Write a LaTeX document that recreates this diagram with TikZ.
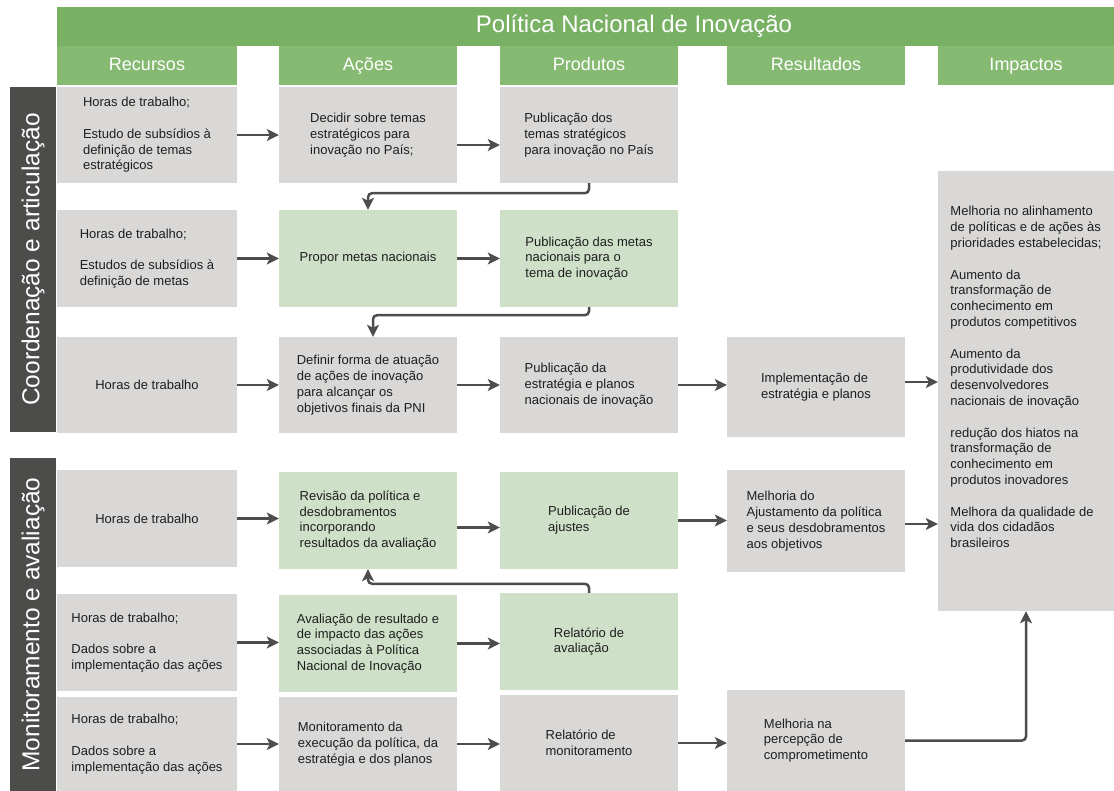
\documentclass[tikz,border=0pt]{standalone}
\usepackage{fontspec}
\setmainfont{Liberation Sans}
\usetikzlibrary{arrows.meta}

\definecolor{bannergreen}{HTML}{78B163}
\definecolor{headgreen}{HTML}{86BA73}
\definecolor{boxgrey}{HTML}{D9D8D7}
\definecolor{boxgreen}{HTML}{CFE0C9}
\definecolor{sidegrey}{HTML}{4C4C4A}
\definecolor{linegrey}{HTML}{4D4D4D}
\definecolor{txtgrey}{HTML}{1E1E1E}

\begin{document}
\begin{tikzpicture}[x=1pt,y=-1pt,
  greybox/.style={fill=boxgrey, minimum width=178pt, minimum height=96pt, align=left,
    font=\fontsize{13}{15.8}\selectfont, text=txtgrey, inner sep=0pt},
  greenbox/.style={greybox, fill=boxgreen},
  header/.style={fill=headgreen, minimum width=178pt, minimum height=39pt, text=white,
    font=\fontsize{18}{20}\selectfont, inner sep=0pt, text height=14pt, text depth=3pt},
  sidebar/.style={fill=sidegrey, rotate=90, text=white, minimum height=46pt,
    font=\fontsize{24.5}{26}\selectfont, inner sep=0pt},
  link/.style={draw=linegrey, line width=2.5pt, rounded corners=4pt,
    -{Stealth[length=12pt,width=12pt,inset=3pt]}},
]
\useasboundingbox (0,0) rectangle (1114,791);

% banner and column heads
\node[fill=bannergreen, minimum width=1057pt, minimum height=39pt, inner sep=0pt] (faixa) at (585.5,26.5) {};
\node[text=white, font=\fontsize{24}{26}\selectfont] (titulo) at (634,26.5) {Política Nacional de Inovação};
\node[header, minimum width=180pt] (hrec) at (147,65.5) {Recursos};
\node[header] (hacoes) at (368,65.5) {Ações};
\node[header] (hprod) at (589,65.5) {Produtos};
\node[header] (hres) at (816,65.5) {Resultados};
\node[header, minimum width=176pt] (himp) at (1026,65.5) {Impactos};

% side bars
\node[sidebar, minimum width=345pt] (coord) at (33,259.5) {Coordenação e articulação};
\node[sidebar, minimum width=333pt] (monit) at (33,624.5) {Monitoramento e avaliação};

% row 1
\node[greybox, minimum width=180pt] (rec1) at (147,135) {Horas de trabalho;\\[15.8pt]Estudo de subsídios à\\definição de temas\\estratégicos};
\node[greybox] (acoes1) at (368,135) {Decidir sobre temas\\estratégicos para\\inovação no País;};
\node[greybox] (prod1) at (589,135) {Publicação dos\\temas stratégicos\\para inovação no País};

% row 2
\node[greybox, minimum width=180pt, minimum height=97pt] (rec2) at (147,258.5) {Horas de trabalho;\\[15.8pt]Estudos de subsídios à\\definição de metas};
\node[greenbox, minimum height=97pt] (acoes2) at (368,258.5) {Propor metas nacionais};
\node[greenbox, minimum height=97pt] (prod2) at (589,258.5) {Publicação das metas\\nacionais para o\\tema de inovação};

% row 3
\node[greybox, minimum width=180pt] (rec3) at (147,385) {Horas de trabalho};
\node[greybox] (acoes3) at (368,385) {Definir forma de atuação\\de ações de inovação\\para alcançar os\\objetivos finais da PNI};
\node[greybox] (prod3) at (589,385) {Publicação da\\estratégia e planos\\nacionais de inovação};
\node[greybox, minimum height=100pt] (res3) at (816,387) {Implementação de\\estratégia e planos};

% row 4
\node[greybox, minimum width=180pt, minimum height=97pt] (rec4) at (147,518.5) {Horas de trabalho};
\node[greenbox, minimum height=97pt] (acoes4) at (368,520.5) {Revisão da política e\\desdobramentos\\incorporando\\resultados da avaliação};
\node[greenbox, minimum height=97pt] (prod4) at (589,520.5) {Publicação de\\ajustes};
\node[greybox, minimum height=102pt] (res4) at (816,521) {Melhoria do\\Ajustamento da política\\e seus desdobramentos\\aos objetivos};

% row 5
\node[greybox, minimum width=180pt, minimum height=97pt] (rec5) at (147,642.5) {Horas de trabalho;\\[15.8pt]Dados sobre a\\implementação das ações};
\node[greenbox, minimum height=97pt] (acoes5) at (368,643.5) {Avaliação de resultado e\\de impacto das ações\\associadas à Política\\Nacional de Inovação};
\node[greenbox, minimum height=97pt] (prod5) at (589,641.5) {Relatório de\\avaliação};

% row 6
\node[greybox, minimum width=180pt, minimum height=94pt] (rec6) at (147,744) {Horas de trabalho;\\[15.8pt]Dados sobre a\\implementação das ações};
\node[greybox, minimum height=94pt] (acoes6) at (368,744) {Monitoramento da\\execução da política, da\\estratégia e dos planos};
\node[greybox, minimum height=96pt] (prod6) at (589,743) {Relatório de\\monitoramento};
\node[greybox, minimum height=101pt] (res6) at (816,740.5) {Melhoria na\\percepção de\\comprometimento};

% impacts
\node[greybox, minimum width=176pt, minimum height=440pt] (imp) at (1026,391) {Melhoria no alinhamento\\de políticas e de ações às\\prioridades estabelecidas;\\[15.8pt]Aumento da\\transformação de\\conhecimento em\\produtos competitivos\\[15.8pt]Aumento da\\produtividade dos\\desenvolvedores\\nacionais de inovação\\[15.8pt]redução dos hiatos na\\transformação de\\conhecimento em\\produtos inovadores\\[15.8pt]Melhora da qualidade de\\vida dos cidadãos\\brasileiros\\[12pt]~};

% connectors
\draw[link] (rec1.east) -- (acoes1.west);
\draw[link] ([yshift=-10pt]acoes1.east) -- ([yshift=-10pt]prod1.west);
\draw[link] (prod1.south) -- ++(0,10) -| (acoes2.north);
\draw[link] (rec2.east) -- (acoes2.west);
\draw[link] (acoes2.east) -- (prod2.west);
\draw[link] (prod2.south) -- ++(0,8) -| ([xshift=5pt]acoes3.north);
\draw[link] (rec3.east) -- (acoes3.west);
\draw[link] (acoes3.east) -- (prod3.west);
\draw[link] (prod3.east) -- (prod3.east -| res3.west);
\draw[link] ([yshift=5pt]res3.east) -- ([yshift=5pt]res3.east -| imp.west);
\draw[link] (rec4.east) -- (rec4.east -| acoes4.west);
\draw[link] ([yshift=-7pt]acoes4.east) -- ([yshift=-7pt]prod4.west);
\draw[link] (prod4.east) -- (prod4.east -| res4.west);
\draw[link] ([yshift=-3pt]res4.east) -- ([yshift=-3pt]res4.east -| imp.west);
\draw[link] (prod5.north) -- ++(0,-9) -| (acoes4.south);
\draw[link] (rec5.east) -- (rec5.east -| acoes5.west);
\draw[link] (acoes5.east) -- (acoes5.east -| prod5.west);
\draw[link] (rec6.east) -- (acoes6.west);
\draw[link] (acoes6.east) -- (acoes6.east -| prod6.west);
\draw[link] (prod6.east) -- (prod6.east -| res6.west);
\draw[link] (res6.east) -| (imp.south);
\end{tikzpicture}
\end{document}
